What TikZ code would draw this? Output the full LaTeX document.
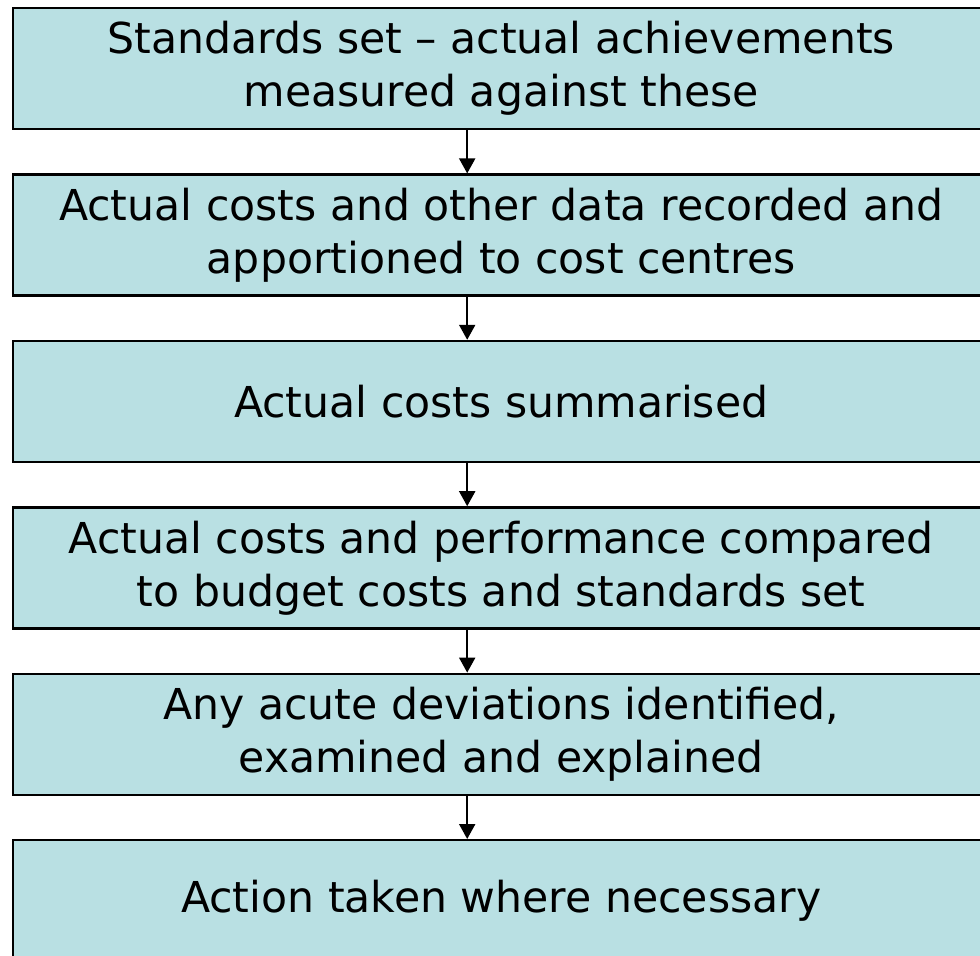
\documentclass[tikz,border=0pt]{standalone}
\usepackage{fontspec}
\setmainfont{DejaVu Sans}
\usetikzlibrary{shapes,arrows.meta,positioning}
\definecolor{boxcyan}{RGB}{185,224,227}

\begin{document}
\begin{tikzpicture}[
    stage/.style={draw=black, line width=1.2pt, fill=boxcyan,
      minimum width=488pt, minimum height=60.5pt, inner sep=0pt,
      align=center, font=\fontsize{21.3}{26.5}\selectfont},
    flow/.style={-{Triangle[width=8pt,length=7.5pt]}, line width=1pt},
    node distance=21.5pt]
    \useasboundingbox (0,0) rectangle (490pt,-478pt);
    \clip (0,0) rectangle (490pt,-478pt);
    % the six steps, top to bottom
    \node [stage, anchor=north west] (s1) at (6pt,-3.5pt)
      {Standards set -- actual achievements\\measured against these};
    \node [stage, below=of s1] (s2)
      {Actual costs and other data recorded and\\apportioned to cost centres};
    \node [stage, below=of s2] (s3) {Actual costs summarised};
    \node [stage, below=of s3] (s4)
      {Actual costs and performance compared\\to budget costs and standards set};
    \node [stage, below=of s4] (s5)
      {Any acute deviations identified,\\examined and explained};
    \node [stage, below=of s5] (s6) {Action taken where necessary};
    % arrows sit a little left of centre
    \foreach \a/\b in {s1/s2,s2/s3,s3/s4,s4/s5,s5/s6}
      \draw [flow] ([xshift=-17pt]\a.south) -- ([xshift=-17pt]\b.north);
\end{tikzpicture}
\end{document}
